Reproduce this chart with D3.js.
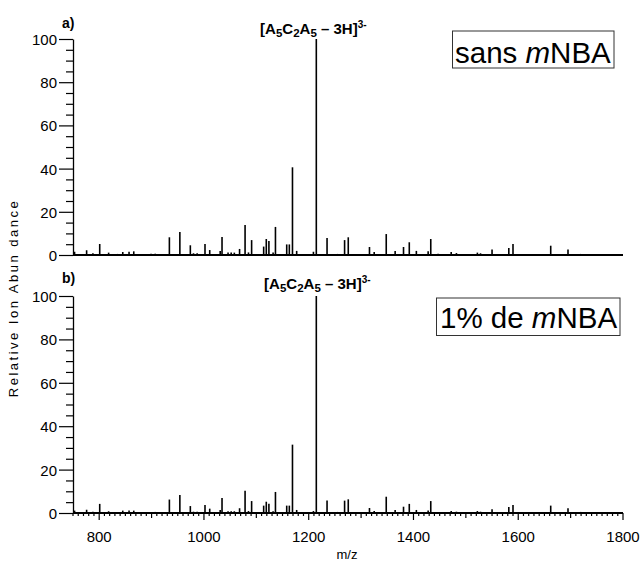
<!DOCTYPE html>
<html><head><meta charset="utf-8">
<script src="https://cdn.jsdelivr.net/npm/d3@7"></script>
<style>
html,body{margin:0;padding:0;background:#fff;}
svg{display:block;font-family:Arial,"Liberation Sans",sans-serif;}
</style></head>
<body><svg id="chart" width="643" height="563"></svg>
<script>
// m/z positions of the peaks (shared by both spectra)
const mz = [753,776,788,801,818,835,845,857,866,899,907,934,954,974,980,987,1002,1011,1031,1034.5,
  1046,1052,1058,1068,1078.5,1085,1091,1114,1119,1124,1132,1136.5,1158,1163,1169,1177,1209,1214.5,1235,1255,
  1268.5,1275.5,1316,1325,1348,1365,1381,1392,1405.5,1428,1433,1447,1472,1482,1522,1528,1550,1582,1590,1662,
  1695,1719];
// a) sans mNBA
const abundA = [1.5,2.2,0.8,5.1,1.1,0.5,1.4,1.5,1.7,0.6,0.6,8.2,10.6,4.5,0.8,0.8,5.1,2.3,1.9,8.3,
  1.1,1.1,1.1,2.8,13.9,1.2,6.9,3.9,7.4,6.5,1.1,13.0,4.9,4.9,40.6,1.9,1.5,100,7.9,0.5,
  6.9,8.2,3.7,1.4,9.7,1.9,3.7,5.9,1.9,1.7,7.4,0.6,1.4,0.9,1.1,0.8,2.5,3.2,5.1,4.3,2.5,0.5];
// b) 1% de mNBA
const abundB = [1.1,1.5,0.6,4.2,0.8,0.4,1.1,1.1,1.1,0.5,0.5,6.2,8.3,3.2,0.6,0.6,3.7,2.0,1.4,6.9,
  0.8,0.8,0.8,2.2,10.2,0.9,5.5,3.4,5.2,4.3,0.8,9.7,3.4,3.4,31.5,1.4,0.9,100,5.8,0.5,
  5.7,6.3,2.3,0.9,7.5,1.4,2.9,4.2,1.4,1.2,5.5,0.5,0.9,0.6,0.9,0.6,1.7,2.8,3.7,3.4,2.2,0.5];
const xDomain = [750, 1800];
const xTickLabels = [800, 1000, 1200, 1400, 1600, 1800];
const yTickLabels = [0, 20, 40, 60, 80, 100];
const panelTags = ["a)", "b)"];
const boxLabels = [["sans ", "m", "NBA"], ["1% de ", "m", "NBA"]];

const svg = d3.select("#chart");
const x = d3.scaleLinear().domain(xDomain).range([73, 623]);
const panels = [
  {data: abundA, y0: 255, y1: 39, tag: panelTags[0], box: boxLabels[0], tagY: 28, lblY: 34, lblDx: -3,
   boxRect: [452.5, 31, 161.5, 37], textX: 455, textY: 63},
  {data: abundB, y0: 513, y1: 296, tag: panelTags[1], box: boxLabels[1], tagY: 283, lblY: 289, lblDx: 1,
   boxRect: [436.5, 298, 183.5, 37.5], textX: 440, textY: 328}
];

panels.forEach((p, pi) => {
  const y = d3.scaleLinear().domain([0, 100]).range([p.y0, p.y1]);
  const g = svg.append("g");
  // y axis: minor every 5, labelled every 20
  const yAx = d3.axisLeft(y).tickValues(d3.range(0, 101, 5))
    .tickSize(0).tickFormat(d => yTickLabels.includes(d) ? d : "");
  const ya = g.append("g").attr("transform", "translate(73,0)").call(yAx);
  ya.select(".domain").attr("stroke", "#000").attr("stroke-width", 1.3);
  ya.selectAll(".tick line").attr("x2", d => yTickLabels.includes(d) ? -14 : -7)
    .attr("stroke", "#000").attr("stroke-width", 1.2);
  ya.selectAll(".tick text").attr("x", -16).attr("dy", "0.36em")
    .attr("font-size", 15).attr("font-family", "Arial, 'Liberation Sans', sans-serif").attr("fill", "#000");

  // peaks
  g.append("g").selectAll("line").data(mz).join("line")
    .attr("x1", d => x(d)).attr("x2", d => x(d))
    .attr("y1", y(0)).attr("y2", (d, i) => y(p.data[i]))
    .attr("stroke", "#000").attr("stroke-width", 1.6);

  // baseline
  g.append("line").attr("x1", x(xDomain[0])).attr("x2", x(xDomain[1]))
    .attr("y1", y(0)).attr("y2", y(0)).attr("stroke", "#000").attr("stroke-width", 2);

  // panel tag
  g.append("text").attr("x", 62).attr("y", p.tagY).attr("font-size", 14).attr("font-weight", "bold").text(p.tag);

  // peak label
  const lab = g.append("text").attr("x", x(1214.5) + p.lblDx).attr("y", p.lblY)
    .attr("text-anchor", "middle").attr("font-size", 15).attr("font-weight", "bold");
  const parts = [["[A",0],["5",1],["C",0],["2",1],["A",0],["5",1],[" \u2013 3H]",0],["3-",2]];
  parts.forEach(([t, k], i) => {
    const prev = i > 0 ? parts[i-1][1] : 0;
    let dy = 0;
    if (k === 1 && prev !== 1) dy = 3;
    if (k === 0 && prev === 1) dy = -3;
    if (k === 2) dy = (prev === 1 ? -3 : 0) - 6;
    const ts = lab.append("tspan").attr("dy", dy).text(t);
    if (k === 1) ts.attr("font-size", 11.5);
    if (k === 2) ts.attr("font-size", 10);
  });

  // boxed condition label
  g.append("rect").attr("x", p.boxRect[0]).attr("y", p.boxRect[1])
    .attr("width", p.boxRect[2]).attr("height", p.boxRect[3])
    .attr("fill", "none").attr("stroke", "#333").attr("stroke-width", 1);
  const bt = g.append("text").attr("x", p.textX).attr("y", p.textY).attr("font-size", 29.5);
  bt.append("tspan").text(p.box[0]);
  bt.append("tspan").attr("font-style", "italic").text(p.box[1]);
  bt.append("tspan").text(p.box[2]);
});

// bottom x axis ticks
const xt = svg.append("g");
const tickVals = d3.range(750, 1801, 10);
xt.selectAll("line").data(tickVals).join("line")
  .attr("x1", d => x(d)).attr("x2", d => x(d)).attr("y1", 513)
  .attr("y2", d => 513 + (d % 200 === 0 ? 7 : d % 100 === 0 ? 5 : 3))
  .attr("stroke", "#000").attr("stroke-width", 1.2);
xt.selectAll("text").data(xTickLabels).join("text")
  .attr("x", d => x(d)).attr("y", 542).attr("text-anchor", "middle").attr("font-size", 15).text(d => d);

svg.append("text").attr("x", 347).attr("y", 559).attr("text-anchor", "middle").attr("font-size", 13).text("m/z");
svg.append("text").attr("transform", "translate(18,298) rotate(-90)").attr("text-anchor", "middle")
  .attr("font-size", 13).attr("letter-spacing", 2.5).text("Relative Ion  Abun dance");
</script></body></html>
